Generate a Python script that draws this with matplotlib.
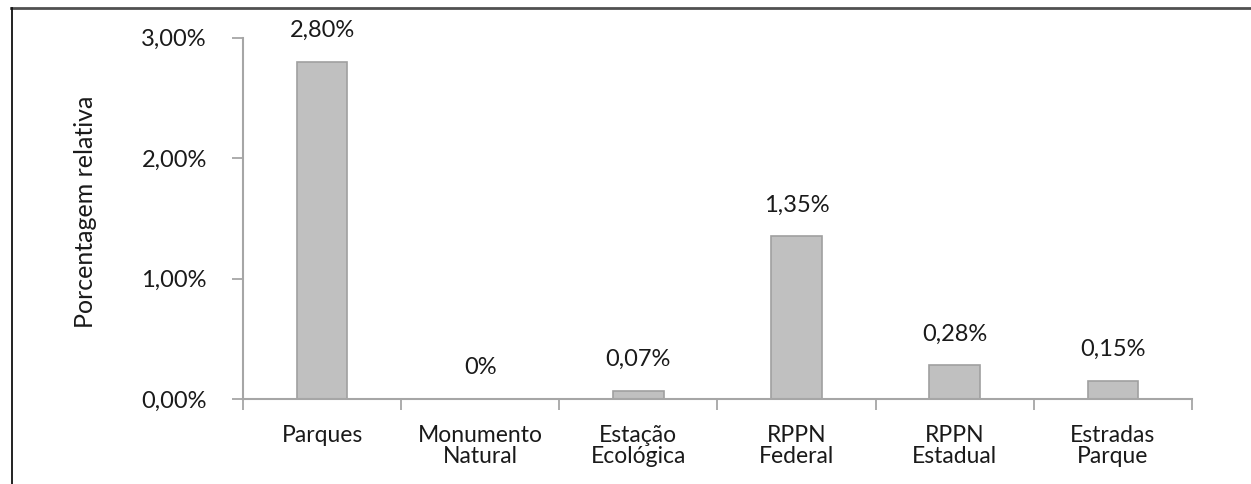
import matplotlib
matplotlib.use('Agg')
import matplotlib.pyplot as plt
from matplotlib.lines import Line2D
import numpy as np

categorias = ['Parques', 'Monumento\nNatural', 'Estação\nEcológica', 'RPPN\nFederal', 'RPPN\nEstadual', 'Estradas\nParque']
valores = [2.80, 0.0, 0.07, 1.35, 0.28, 0.15]
rotulos = ['2,80%', '0%', '0,07%', '1,35%', '0,28%', '0,15%']
yticks = [0, 1, 2, 3]
ytick_labels = ['0,00%', '1,00%', '2,00%', '3,00%']

plt.rcParams['font.family'] = ['Lato', 'DejaVu Sans']

fig = plt.figure(figsize=(12.51, 4.84), dpi=100)
ax = fig.add_axes([0.1942, 0.1756, 0.7586, 0.7469])

x = np.arange(len(categorias))
ax.bar(x, valores, width=0.32, color='#c0c0c0', edgecolor='#a0a0a0', linewidth=1.2)

# value labels above bars
for xi, v, r in zip(x, valores, rotulos):
    ax.annotate(r, (xi, v), xytext=(0, 22.5), textcoords='offset points',
                ha='center', va='center', fontsize=17, color='#1a1a1a')

ax.set_xlim(-0.5, len(categorias) - 0.5)
ax.set_ylim(0, 3)

# category boundaries get the tick marks, labels sit at centers
ax.set_xticks(np.arange(-0.5, len(categorias)))
ax.set_xticklabels([])
ax.set_xticks(x, minor=True)
ax.set_xticklabels(categorias, minor=True, fontsize=16.5, color='#1a1a1a', linespacing=0.98)
ax.tick_params(axis='x', which='minor', length=0, pad=19)
ax.tick_params(axis='x', which='major', length=8, width=1.3, color='#a6a6a6', direction='out')

ax.set_yticks(yticks)
ax.set_yticklabels(ytick_labels, fontsize=17, color='#1a1a1a')
ax.tick_params(axis='y', length=8, width=1.3, color='#a6a6a6', pad=18)

for s in ['top', 'right']:
    ax.spines[s].set_visible(False)
for s in ['left', 'bottom']:
    ax.spines[s].set_color('#a6a6a6')
    ax.spines[s].set_linewidth(1.5)

fig.text(0.068, 0.562, 'Porcentagem relativa', rotation=90, ha='center', va='center',
         fontsize=18, color='#1a1a1a')

# outer frame (top and left edges)
fig.add_artist(Line2D([11 / 1251, 1.0], [1 - 7.5 / 484, 1 - 7.5 / 484], transform=fig.transFigure,
                      color='#505050', linewidth=2))
fig.add_artist(Line2D([11.5 / 1251, 11.5 / 1251], [0, 1 - 7.5 / 484], transform=fig.transFigure,
                      color='#111111', linewidth=1.3))

fig.savefig('out.png', dpi=100)
